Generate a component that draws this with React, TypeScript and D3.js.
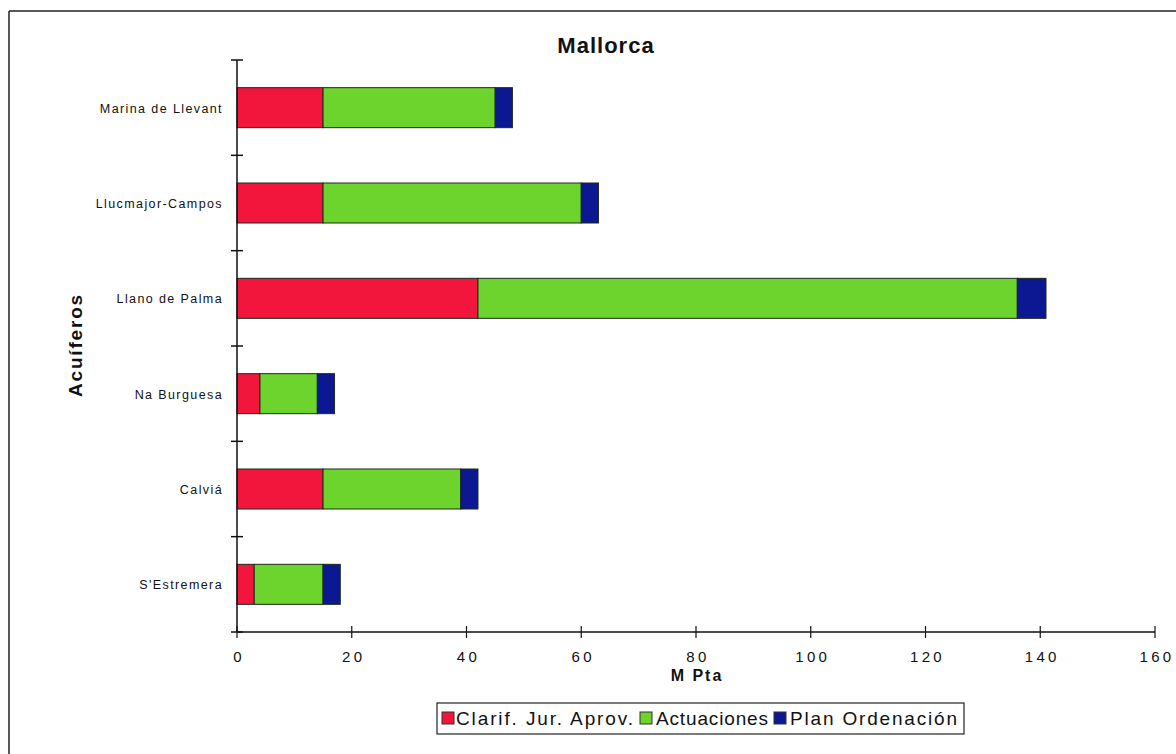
import React from "react";
import * as d3 from "d3";

const categories = ["Marina de Llevant", "Llucmajor-Campos", "Llano de Palma", "Na Burguesa", "Calviá", "S'Estremera"];
const clarif = [15, 15, 42, 4, 15, 3];
const actuaciones = [30, 45, 94, 10, 24, 12];
const plan = [3, 3, 5, 3, 3, 3];
const seriesNames = ["Clarif. Jur. Aprov.", "Actuaciones", "Plan Ordenación"];
const seriesColors = ["#f2163d", "#6cd42c", "#0c1792"];
const xTicks = [0, 20, 40, 60, 80, 100, 120, 140, 160];

export default function App() {
  const W = 1176, H = 754;
  const left = 237, right = 1155, top = 60, bottom = 632;
  const x = d3.scaleLinear().domain([0, 160]).range([left, right]);
  const y = d3.scaleBand<string>().domain(categories).range([top, bottom]).paddingInner(0).paddingOuter(0);
  const barH = 40;
  const rows = categories.map((c, i) => ({ cat: c, vals: [clarif[i], actuaciones[i], plan[i]] }));
  const stack = d3.stack<any>().keys(["0", "1", "2"]).value((d: any, k: string) => d.vals[+k]);
  const stacked = stack(rows);
  const boundaries = categories.map((c) => y(c)!).concat([bottom]);
  const font = "Arial, 'Liberation Sans', Helvetica, sans-serif";

  const legendItems = [
    { sx: 442, tx: 456, len: 177 },
    { sx: 640, tx: 656, len: 112 },
    { sx: 774, tx: 790, len: 167 },
  ];

  return (
    <svg width={W} height={H} style={{ position: "absolute", left: 0, top: 0, background: "#fff" }} fontFamily={font}>
      {/* frame */}
      <line x1={9} y1={11} x2={1176} y2={11} stroke="#222" strokeWidth={1.5} />
      <line x1={9} y1={11} x2={9} y2={754} stroke="#222" strokeWidth={1.5} />

      <text x={606} y={53} textAnchor="middle" fontSize={22} fontWeight="bold" letterSpacing={1} fill="#111">Mallorca</text>

      {/* bars */}
      {stacked.map((s, si) =>
        s.map((d, i) => (
          <rect
            key={`${si}-${i}`}
            x={x(d[0])}
            y={y(categories[i])! + (y.bandwidth() - barH) / 2}
            width={x(d[1]) - x(d[0])}
            height={barH}
            fill={seriesColors[si]}
            stroke="#1a2a1a"
            strokeWidth={1}
          />
        ))
      )}

      {/* y axis */}
      <line x1={left} y1={top} x2={left} y2={bottom} stroke="#111" strokeWidth={1.5} />
      {boundaries.map((b, i) => (
        <line key={i} x1={left - 6} x2={left + 6} y1={b} y2={b} stroke="#111" strokeWidth={1.5} />
      ))}
      {categories.map((c) => (
        <text key={c} x={223} y={y(c)! + y.bandwidth() / 2 + 5} textAnchor="end" fontSize={12.5} letterSpacing={1.4} fill="#111">{c}</text>
      ))}
      <text transform={`translate(82,${(top + bottom) / 2 - 1}) rotate(-90)`} textAnchor="middle" fontSize={19} fontWeight="bold" letterSpacing={1.8} fill="#111">Acuíferos</text>

      {/* x axis */}
      <line x1={left} y1={bottom} x2={right} y2={bottom} stroke="#111" strokeWidth={1.5} />
      {xTicks.map((t) => (
        <g key={t}>
          <line x1={x(t)} x2={x(t)} y1={bottom - 6} y2={bottom + 6} stroke="#111" strokeWidth={1.2} />
          <text x={x(t) + 2} y={662} textAnchor="middle" fontSize={15} letterSpacing={3.3} fill="#111">{t}</text>
        </g>
      ))}
      <text x={697} y={681} textAnchor="middle" fontSize={16} fontWeight="bold" letterSpacing={2} fill="#111">M Pta</text>

      {/* legend */}
      <rect x={437} y={703} width={527} height={31} fill="#fff" stroke="#222" strokeWidth={1.2} />
      {seriesNames.map((n, i) => (
        <g key={n}>
          <rect x={legendItems[i].sx} y={712} width={12} height={12} fill={seriesColors[i]} stroke="#333" strokeWidth={1} />
          <text x={legendItems[i].tx} y={725} fontSize={19} textLength={legendItems[i].len} lengthAdjust="spacing" fill="#111">{n}</text>
        </g>
      ))}
    </svg>
  );
}
